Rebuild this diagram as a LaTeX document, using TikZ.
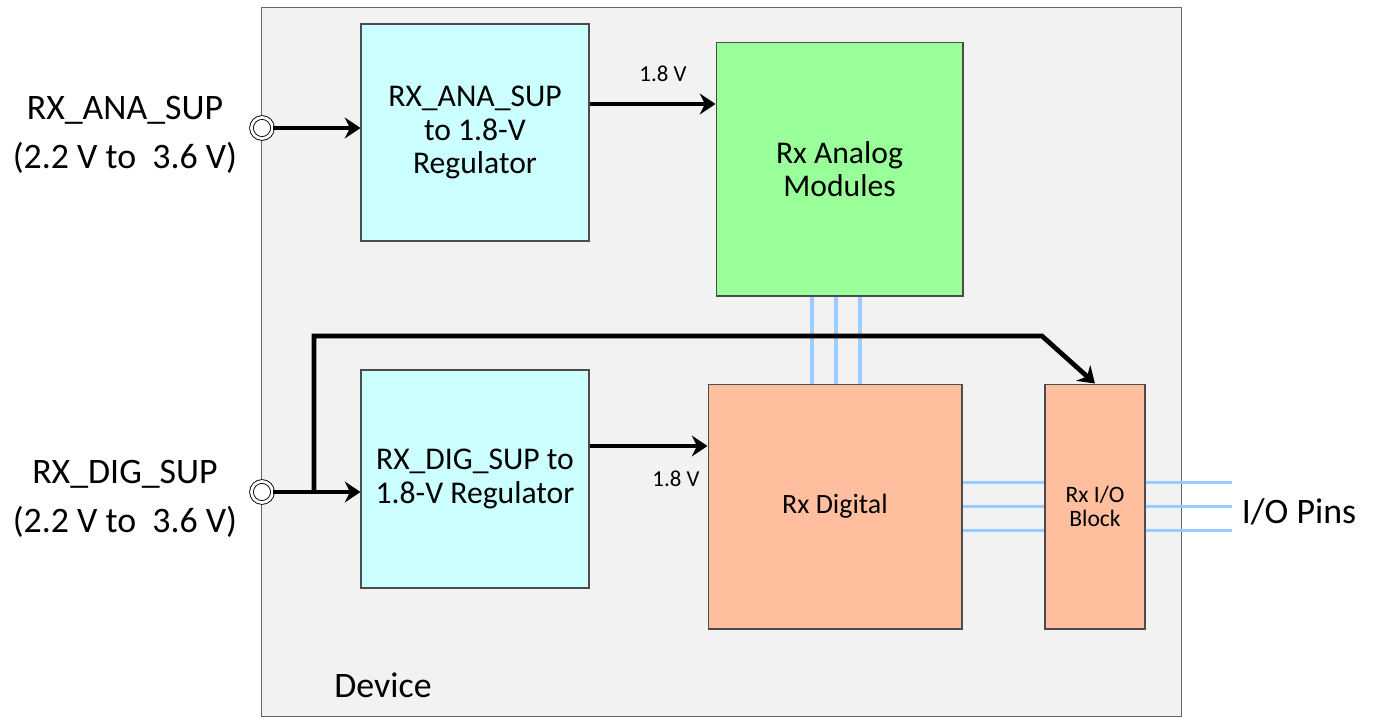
\documentclass[tikz,border=0pt]{standalone}
\usepackage{fontspec}
\setmainfont{Carlito}
\usetikzlibrary{arrows.meta, calc}
\definecolor{devgray}{HTML}{F2F2F2}
\definecolor{regcyan}{HTML}{CCFFFF}
\definecolor{anagreen}{HTML}{99FF99}
\definecolor{digsalmon}{HTML}{FFBF9F}
\definecolor{busblue}{HTML}{99CCFF}
\begin{document}
\begin{tikzpicture}[x=0.02cm,y=-0.02cm,>={Stealth[length=9pt,width=12pt,inset=3pt]},wire/.style={line width=2.7pt},bus/.style={line width=2.2pt, busblue},block/.style={draw=black!70, line width=0.6pt, align=center, font=\fontsize{18}{19}\selectfont},term/.style={circle, draw, line width=0.5pt, double, double distance=1.6pt, fill=white, minimum size=0.42cm, inner sep=0pt},pinlabel/.style={align=center, font=\fontsize{20.4}{27.8}\selectfont},volt/.style={font=\fontsize{13}{14}\selectfont}]
\useasboundingbox (0,0) rectangle (1374,717);
\fill[white] (0,0) rectangle (1374,717);
\draw[devgray, fill=devgray] (261,7) rectangle (1181,716); \draw[black!60, line width=0.5pt] (261,7) rectangle (1181,716);
\node[pinlabel] at (383,685) {Device};
% supply blocks
\node[block, fill=regcyan, minimum width=4.56cm, minimum height=4.34cm] (reg1) at (475,132.5) {RX\_ANA\_SUP\\to 1.8-V\\Regulator};
\node[block, fill=regcyan, minimum width=4.56cm, minimum height=4.36cm] (reg2) at (475,479) {RX\_DIG\_SUP to\\1.8-V Regulator};
\node[block, fill=anagreen, minimum width=4.94cm, minimum height=5.08cm] (analog) at (839.5,169) {Rx Analog\\Modules};
\node[block, fill=digsalmon, minimum width=5.08cm, minimum height=4.9cm, font=\fontsize{15.9}{17}\selectfont] (digital) at (835,506.5) {Rx Digital};
\node[block, fill=digsalmon, minimum width=2cm, minimum height=4.9cm, font=\fontsize{13.4}{14}\selectfont] (io) at (1095,506.5) {Rx I/O\\Block};
% pins
\node[term] (anain) at (262,128) {}; \node[term] (digin) at (262,492) {};
\node[pinlabel] (analbl) at (125,135) {RX\_ANA\_SUP\\(2.2 V to \ 3.6 V)};
\node[pinlabel] (diglbl) at (125,499) {RX\_DIG\_SUP\\(2.2 V to \ 3.6 V)};
\node[pinlabel, anchor=west, inner sep=2pt] (pins) at (1238,512) {I/O Pins};
% buses
\foreach \d in {-24,0,24} {\draw[bus] ($(analog.south)+(\d-3.5,0)$) coordinate (b) -- (b |- digital.north);}
\foreach \d in {-24,0,24} {\draw[bus] ($(digital.east)+(0,\d)$) coordinate (h) -- (h -| io.west);
  \draw[bus] ($(io.east)+(0,\d)$) coordinate (h) -- ($(h -| pins.west)+(-6,0)$);}
% power wires
\draw[wire,->] (anain) -- (anain -| reg1.west);
\draw[wire,->] (digin) -- (digin -| reg2.west);
\draw[wire,->] ($(reg1.east)+(0,-28.5)$) coordinate (v1) -- (v1 -| analog.west);
\draw[wire,->] ($(reg2.east)+(0,-33)$) coordinate (v2) -- (v2 -| digital.west);
\node[volt] at (663,74) {1.8 V}; \node[volt] at (676,479) {1.8 V};
\coordinate (tap) at ($(digin)+(52,0)$); \coordinate (bend) at (1042,336);
\draw[wire,->] (tap) |- (bend) -- (io.north);
\end{tikzpicture}
\end{document}
